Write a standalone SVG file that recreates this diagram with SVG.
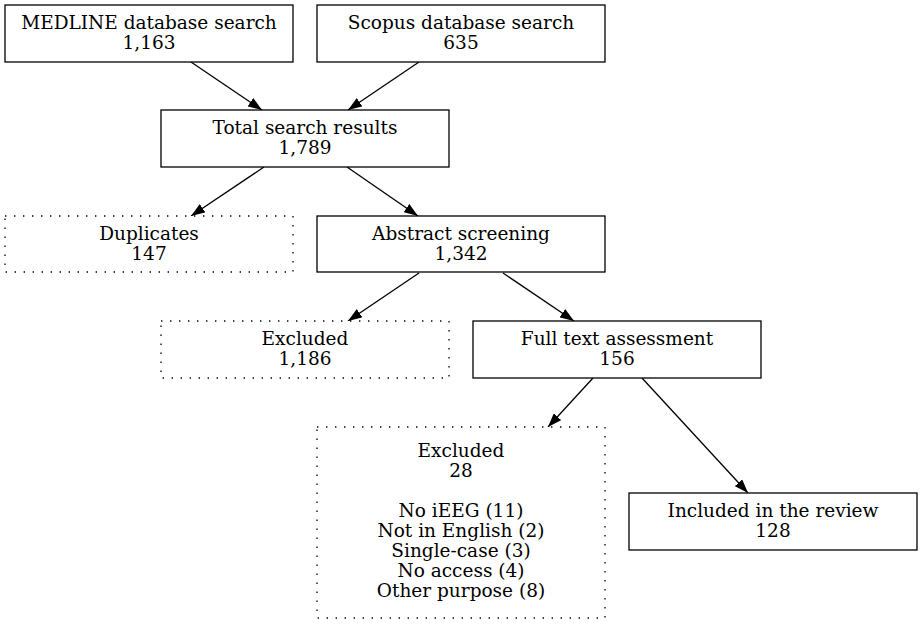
<svg xmlns="http://www.w3.org/2000/svg" width="923" height="624" viewBox="0 0 923 624">
<style>
rect{fill:#fff;stroke:#000;stroke-width:1.3}
.dot{stroke-dasharray:1.4,7.6}
text{font-family:"DejaVu Serif",serif;font-size:18.5px;text-anchor:middle;fill:#000}
.e{stroke:#000;stroke-width:1.3;fill:none;marker-end:url(#ah)}
</style>
<defs>
<marker id="ah" viewBox="0 0 14 10" refX="14" refY="5" markerWidth="14" markerHeight="10" markerUnits="userSpaceOnUse" orient="auto">
<path d="M0,0 L14,5 L0,10 z" fill="#000"/>
</marker>
</defs>
<rect width="923" height="624" style="stroke:none"/>
<g id="edges">
<line class="e" x1="191" y1="62" x2="262" y2="110"/>
<line class="e" x1="419" y1="62" x2="348" y2="110"/>
<line class="e" x1="264" y1="167" x2="191" y2="216"/>
<line class="e" x1="347" y1="167" x2="418" y2="216"/>
<line class="e" x1="419" y1="273" x2="348" y2="321"/>
<line class="e" x1="503" y1="273" x2="574" y2="321"/>
<line class="e" x1="593" y1="378" x2="548" y2="427"/>
<line class="e" x1="642" y1="378" x2="748" y2="493"/>
</g>
<g id="medline"><rect x="5" y="5" width="288" height="57"/><text x="149" y="29">MEDLINE database search</text><text x="149" y="49">1,163</text></g>
<g id="scopus"><rect x="317" y="5" width="288" height="57"/><text x="461" y="29">Scopus database search</text><text x="461" y="49">635</text></g>
<g id="total"><rect x="161" y="110" width="288" height="57"/><text x="305" y="134">Total search results</text><text x="305" y="154">1,789</text></g>
<g id="duplicates"><rect class="dot" x="5" y="216" width="288" height="56"/><text x="149" y="240">Duplicates</text><text x="149" y="260">147</text></g>
<g id="abstract"><rect x="317" y="216" width="288" height="56"/><text x="461" y="240">Abstract screening</text><text x="461" y="260">1,342</text></g>
<g id="excluded1"><rect class="dot" x="161" y="321" width="288" height="57"/><text x="305" y="345">Excluded</text><text x="305" y="365">1,186</text></g>
<g id="fulltext"><rect x="473" y="321" width="288" height="57"/><text x="617" y="345">Full text assessment</text><text x="617" y="365">156</text></g>
<g id="excluded2"><rect class="dot" x="317" y="427" width="288" height="191"/><text x="461" y="457">Excluded</text><text x="461" y="477">28</text><text x="461" y="517">No iEEG (11)</text><text x="461" y="537">Not in English (2)</text><text x="461" y="557">Single-case (3)</text><text x="461" y="577">No access (4)</text><text x="461" y="597">Other purpose (8)</text></g>
<g id="included"><rect x="629" y="493" width="288" height="57"/><text x="773" y="517">Included in the review</text><text x="773" y="537">128</text></g>
</svg>
